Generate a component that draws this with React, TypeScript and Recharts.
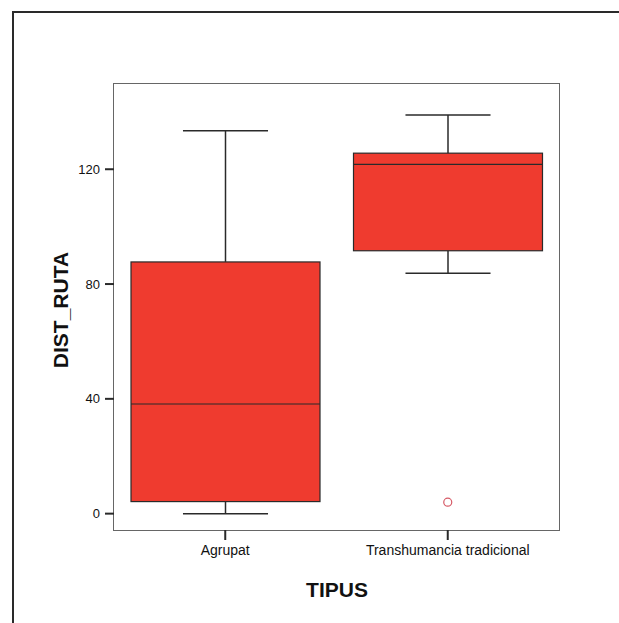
import React from 'react';
import {
  ComposedChart,
  Bar,
  Scatter,
  XAxis,
  YAxis,
} from 'recharts';

// values
const categories = ['Agrupat', 'Transhumancia tradicional'];
const minValues = [0, 83.8];
const q1Values = [4.2, 91.6];
const medianValues = [38.2, 121.7];
const q3Values = [87.7, 125.6];
const maxValues = [133.4, 138.9];
const outlierValues: (number | null)[] = [null, 4.0];
const yTicks = [0, 40, 80, 120];

const data = categories.map((name, i) => ({
  name,
  range: [minValues[i], maxValues[i]],
  min: minValues[i],
  q1: q1Values[i],
  median: medianValues[i],
  q3: q3Values[i],
  max: maxValues[i],
  outlier: outlierValues[i],
}));

const FONT = '"Liberation Sans", Arial, sans-serif';
const BOX_FILL = '#ef3b2f';
const DARK = '#2a2a2a';
const FRAME = '#666';

// plot area: margins + axis sizes below
const MARGIN = { top: 84, right: 60, bottom: 63, left: 74 };
const Y_W = 40;
const X_H = 30;
const W = 619;
const H = 623;

// box + whiskers, positions taken from the range bar the library laid out
function BoxShape(props: any) {
  const { x, y, width, height, payload } = props;
  if (!payload || width == null) return null;
  const top = Math.min(y, y + height);
  const h = Math.abs(height);
  const span = payload.max - payload.min;
  const px = span > 0 ? h / span : 0;
  const yOf = (v: number) => top + (payload.max - v) * px;
  const cx = x + width / 2;
  const cap = width * 0.225;
  return (
    <g>
      <line x1={cx} x2={cx} y1={yOf(payload.max)} y2={yOf(payload.q3)} stroke={DARK} strokeWidth={1.5} />
      <line x1={cx} x2={cx} y1={yOf(payload.q1)} y2={yOf(payload.min)} stroke={DARK} strokeWidth={1.5} />
      <line x1={cx - cap} x2={cx + cap} y1={yOf(payload.max)} y2={yOf(payload.max)} stroke={DARK} strokeWidth={1.5} />
      <line x1={cx - cap} x2={cx + cap} y1={yOf(payload.min)} y2={yOf(payload.min)} stroke={DARK} strokeWidth={1.5} />
      <rect
        x={x}
        y={yOf(payload.q3)}
        width={width}
        height={yOf(payload.q1) - yOf(payload.q3)}
        fill={BOX_FILL}
        stroke={DARK}
        strokeWidth={1.2}
      />
      <line x1={x} x2={x + width} y1={yOf(payload.median)} y2={yOf(payload.median)} stroke={DARK} strokeWidth={1.2} />
    </g>
  );
}

function OutlierShape(props: any) {
  const { cx, cy, payload } = props;
  if (payload == null || payload.outlier == null) return null;
  return <circle cx={cx} cy={cy} r={4} fill="none" stroke="#d65a66" strokeWidth={1.2} />;
}

export default function App() {
  const plotLeft = MARGIN.left + Y_W;
  const plotTop = MARGIN.top;
  const plotW = W - MARGIN.left - MARGIN.right - Y_W;
  const plotH = H - MARGIN.top - MARGIN.bottom - X_H;
  return (
    <div style={{ position: 'absolute', left: 0, top: 0, width: W, height: H, background: '#fff', overflow: 'hidden' }}>
      <div
        style={{
          position: 'absolute',
          left: 12,
          top: 11,
          width: 640,
          height: 640,
          border: `2px solid ${DARK}`,
        }}
      />
      {/* frame round the plot area */}
      <div
        style={{
          position: 'absolute',
          left: plotLeft - 0.75,
          top: plotTop - 0.75,
          width: plotW + 1.5,
          height: plotH + 1.5,
          boxSizing: 'border-box',
          border: `1.5px solid ${FRAME}`,
        }}
      />
      <div style={{ position: 'absolute', left: 0, top: 0 }}>
        <ComposedChart width={W} height={H} data={data} margin={MARGIN} barSize={189}>
          <XAxis
            dataKey="name"
            tickLine={{ stroke: DARK, strokeWidth: 2 }}
            tickSize={10}
            tickMargin={5}
            axisLine={false}
            tick={{ fontSize: 14, fill: '#111', fontFamily: FONT }}
            height={X_H}
            label={() => (
              <text x={337} y={597} textAnchor="middle" fontSize={21} fontWeight="bold" fontFamily={FONT} fill="#111">
                TIPUS
              </text>
            )}
          />
          <YAxis
            type="number"
            domain={[-5.7, 149.7]}
            ticks={yTicks}
            allowDataOverflow
            width={Y_W}
            tickSize={9}
            tickMargin={5}
            tickLine={{ stroke: DARK, strokeWidth: 2 }}
            axisLine={false}
            tick={{ fontSize: 13, fill: '#111', fontFamily: FONT }}
            label={() => (
              <text
                x={60}
                y={310}
                transform="rotate(-90 60 310)"
                textAnchor="middle"
                dominantBaseline="central"
                fontSize={21}
                fontWeight="bold"
                fontFamily={FONT}
                fill="#111"
              >
                DIST_RUTA
              </text>
            )}
          />
          <Bar dataKey="range" shape={BoxShape} isAnimationActive={false} />
          <Scatter dataKey="outlier" shape={OutlierShape} isAnimationActive={false} />
        </ComposedChart>
      </div>
    </div>
  );
}
